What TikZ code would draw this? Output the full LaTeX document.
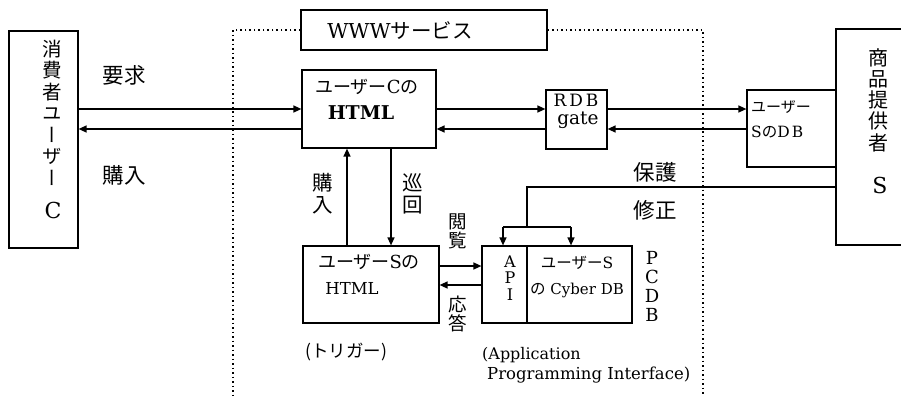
\documentclass[tikz,border=0pt]{standalone}
\usepackage{fontspec}
\setmainfont{DejaVu Serif}
\newfontfamily\jp{Noto Sans CJK JP}
\newfontfamily\jpv[RawFeature=+vert]{Noto Sans CJK JP}
\usetikzlibrary{arrows.meta}
\begin{document}
\begin{tikzpicture}[x=1pt,y=-1pt,
  box/.style={draw,line width=1.2pt,inner sep=0pt},
  arr/.style={line width=1.4pt,-{Triangle[length=8pt,width=7pt]}},
  ln/.style={line width=1.4pt},
  frame/.style={line width=1.3pt,dash pattern=on 1.5pt off 3pt},
  lab/.style={font=\jp\fontsize{21.5}{22}\selectfont,inner sep=0pt,align=center},
  vlab/.style={font=\jp\fontsize{18.5}{19}\selectfont,inner sep=0pt,align=center},
]
\useasboundingbox (0,0) rectangle (901,396);
% y levels
\coordinate (yA) at (0,109);
\coordinate (yB) at (0,129);
\coordinate (yC) at (0,266);
\coordinate (yD) at (0,285);
\coordinate (xP) at (347,0);
\coordinate (xQ) at (391,0);

% boxes
\node[box,minimum width=69pt,minimum height=217pt] (C) at (43.5,139.5) {};
\node[box,minimum width=80pt,minimum height=216pt] (S) at (876,137) {};
\node[box,minimum width=246pt,minimum height=40pt] (WWW) at (424,30) {};
\node[box,minimum width=134pt,minimum height=78pt] (HC) at (369,109) {};
\node[box,minimum width=61pt,minimum height=59pt] (RDB) at (576.5,119.5) {};
\node[box,minimum width=89pt,minimum height=77pt] (SDB) at (791.5,128.5) {};
\node[box,minimum width=136pt,minimum height=77pt] (HS) at (371,284.5) {};
\node[box,minimum width=150pt,minimum height=77pt] (PC) at (557,284.5) {};

% texts in boxes
\node[font=\jpv\fontsize{19.5}{21.5}\selectfont,align=center,inner sep=0pt] (Ct) at (52,112.5) {消\\費\\者\\ユ\\ー\\ザ\\ー};
\node[font=\fontsize{22}{22}\selectfont,inner sep=0pt] (Cc) at (53,210) {C};
\node[font=\jp\fontsize{20}{21.25}\selectfont,align=center,inner sep=0pt] (St) at (878,100) {商\\品\\提\\供\\者};
\node[font=\fontsize{22}{22}\selectfont,inner sep=0pt] (Ss) at (880,185) {S};
\node[font=\fontsize{20.5}{20.5}\selectfont,inner sep=0pt] (WWWt) at (400,31) {WWW{\jp\fontsize{20.5}{20.5}\selectfont サービス}};
\node[font=\jp\fontsize{18}{18}\selectfont,inner sep=0pt] (HCt1) at (367,87) {ユーザー{\rmfamily C}の};
\node[font=\bfseries\fontsize{19}{19}\selectfont,inner sep=0pt] (HCt2) at (361,113) {HTML};
\node[font=\fontsize{17}{17}\selectfont,inner sep=0pt] (RDBt1) at (576,100) {R\kern3pt D\kern3pt B};
\node[font=\fontsize{18.5}{18.5}\selectfont,inner sep=0pt] (RDBt2) at (578,120) {gate};
\node[font=\jp\fontsize{15}{15}\selectfont,inner sep=0pt,anchor=west] (SDBt1) at (751,107) {ユーザー};
\node[font=\fontsize{15.5}{15.5}\selectfont,inner sep=0pt,anchor=west] (SDBt2) at (751,132) {S{\jp\fontsize{15.5}{15.5}\selectfont の}D\kern2pt B};
\node[font=\jp\fontsize{18}{18}\selectfont,inner sep=0pt] (HSt1) at (369,262) {ユーザー{\rmfamily S}の};
\node[font=\fontsize{16.5}{16.5}\selectfont,inner sep=0pt] (HSt2) at (352,288) {HTML};
\node[font=\fontsize{16}{16.5}\selectfont,align=center,inner sep=0pt] (API) at (510,278) {A\\P\\I};
\node[font=\jp\fontsize{15.5}{15.5}\selectfont,inner sep=0pt] (PCt1) at (577,263) {ユーザー{\rmfamily S}};
\node[font=\fontsize{15}{15}\selectfont,inner sep=0pt] (PCt2) at (577,290) {{\jp\fontsize{15.5}{15.5}\selectfont の} Cyber DB};
\node[font=\fontsize{18}{19}\selectfont,align=center,inner sep=0pt] (PCDB) at (652,286) {P\\C\\D\\B};

% labels
\node[lab] (l1) at (124,75) {要求};
\node[lab] (l2) at (124,175) {購入};
\node[lab] (l3) at (655,172) {保護};
\node[lab] (l4) at (655,210) {修正};
\node[font=\jp\fontsize{20.5}{22}\selectfont,align=center,inner sep=0pt] (l5) at (323,194) {購\\入};
\node[font=\jp\fontsize{20.5}{22}\selectfont,align=center,inner sep=0pt] (l6) at (413,194) {巡\\回};
\node[vlab] (l7) at (458,231) {閲\\覧};
\node[vlab] (l8) at (458,314) {応\\答};
\node[font=\jp\fontsize{17.5}{17.5}\selectfont,inner sep=0pt] (l9) at (346,352) {(トリガー)};
\node[font=\fontsize{16}{16}\selectfont,inner sep=0pt,anchor=west] (l10) at (482,355) {(Application};
\node[font=\fontsize{16.5}{16.5}\selectfont,inner sep=0pt,anchor=west] (l11) at (487,375) {Programming Interface)};

% frame
\coordinate (fL) at (233,396);
\coordinate (fR) at (703,396);
\draw[frame] (WWW.west) -| (fL);
\draw[frame] (WWW.east) -| (fR);

% arrows
\draw[arr] (C.east |- yA) -- (HC.west |- yA);
\draw[arr] (HC.west |- yB) -- (C.east |- yB);
\draw[arr] (HC.east |- yA) -- (RDB.west |- yA);
\draw[arr] (RDB.west |- yB) -- (HC.east |- yB);
\draw[arr] (RDB.east |- yA) -- (SDB.west |- yA);
\draw[arr] (SDB.west |- yB) -- (RDB.east |- yB);
\draw[arr] (HS.north -| xP) -- (HC.south -| xP);
\draw[arr] (HC.south -| xQ) -- (HS.north -| xQ);
\draw[arr] (HS.east |- yC) -- (PC.west |- yC);
\draw[arr] (PC.west |- yD) -- (HS.east |- yD);

% protection / modification line
\coordinate (pk) at (527,187);
\coordinate (pj) at (527,227);
\coordinate (pa) at (503,227);
\coordinate (pb) at (571,227);
\draw[ln] (S.west |- pk) -- (pk) -- (pj);
\draw[ln] (pa) -- (pb);
\draw[arr] (pa) -- (pa |- PC.north);
\draw[arr] (pb) -- (pb |- PC.north);
\draw[line width=1.2pt] (pk |- PC.north) -- (pk |- PC.south);
\end{tikzpicture}
\end{document}
